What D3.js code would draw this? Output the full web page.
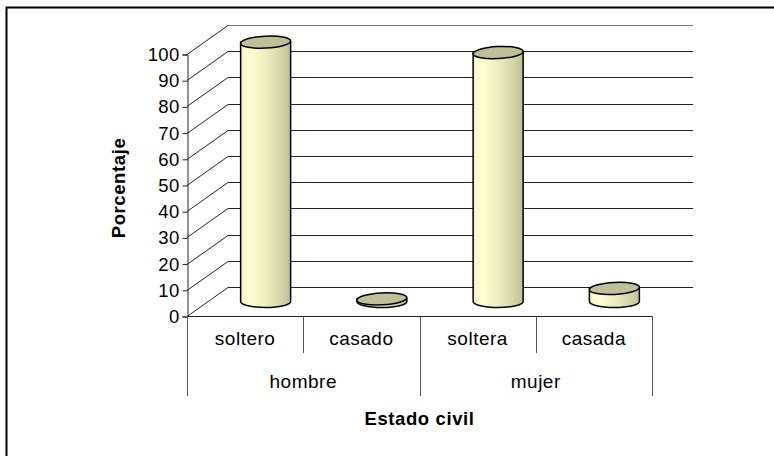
<!DOCTYPE html>
<html>
<head>
<meta charset="utf-8">
<script src="https://cdn.jsdelivr.net/npm/d3@7"></script>
<style>
  body { margin: 0; background: #fff; }
  text { font-family: "Liberation Sans", Arial, sans-serif; fill: #000; }
</style>
</head>
<body>
<svg width="774" height="456"></svg>
<script>
// Data
const groups = ["hombre", "mujer"];
const categories = ["soltero", "casado", "soltera", "casada"];
const categoryGroup = ["hombre", "hombre", "mujer", "mujer"];
const values = [99, 1, 95, 5];
const yTicks = [0, 10, 20, 30, 40, 50, 60, 70, 80, 90, 100];

// Set SVG dimensions
const width = 774;
const height = 456;
const left = 187, right = 652, floorY = 316, topY = 54;
const depth = { dx: 41, dy: -29 };

const svg = d3.select("svg");

// Outer frame (right and bottom edges fall outside the picture)
svg.append("rect")
    .attr("x", 6.5).attr("y", 7.5)
    .attr("width", 800).attr("height", 500)
    .attr("fill", "none")
    .attr("stroke", "#000")
    .attr("stroke-width", 2);

// Scales
const yScale = d3.scaleLinear().domain([0, 100]).range([floorY, topY]);
const xScale = d3.scaleBand().domain(categories).range([left, right]);
const groupScale = d3.scaleBand().domain(groups).range([left, right]);

// Back wall gridlines and side wall diagonals
const grid = svg.append("g").attr("stroke", "#222").attr("stroke-width", 1);
yTicks.forEach(function(t) {
    const y = Math.round(yScale(t)) + 0.5;
    grid.append("line")
        .attr("x1", left).attr("y1", y)
        .attr("x2", left + depth.dx).attr("y2", y + depth.dy);
    grid.append("line")
        .attr("x1", left + depth.dx).attr("y1", y + depth.dy)
        .attr("x2", right + depth.dx).attr("y2", y + depth.dy)
        .attr("stroke", t === 100 ? "#777" : "#222");
});

// Y axis
const yAxis = svg.append("g")
    .attr("transform", `translate(${left + 0.5}, 0.5)`)
    .call(d3.axisLeft(yScale).tickValues(yTicks).tickSize(5).tickPadding(3));
yAxis.select(".domain").attr("stroke", "#222");
yAxis.selectAll(".tick line").attr("stroke", "#222");
yAxis.selectAll("text")
    .style("font-size", "18.5px")
    .style("letter-spacing", "0.3px")
    .style("font-family", "Liberation Sans, Arial, sans-serif")
    .attr("fill", "#000");

// Category box under the floor
const box = svg.append("g").attr("stroke", "#555").attr("stroke-width", 1);
box.append("line")
    .attr("x1", left).attr("y1", floorY + 0.5)
    .attr("x2", right).attr("y2", floorY + 0.5)
    .attr("stroke", "#222");
categories.forEach(function(c, i) {
    const x = Math.round(xScale(c)) + 0.5;
    box.append("line")
        .attr("x1", x).attr("y1", floorY)
        .attr("x2", x).attr("y2", i % 2 === 0 ? 396 : 353);
});
box.append("line")
    .attr("x1", right + 0.5).attr("y1", floorY)
    .attr("x2", right + 0.5).attr("y2", 396);

// Category labels
svg.selectAll(".cat")
    .data(categories)
    .enter()
    .append("text")
    .attr("x", d => xScale(d) + xScale.bandwidth() / 2)
    .attr("y", 345)
    .attr("text-anchor", "middle")
    .style("font-size", "19px")
    .style("letter-spacing", "0.5px")
    .text(d => d);

// Group labels
svg.selectAll(".grp")
    .data(groups)
    .enter()
    .append("text")
    .attr("x", d => groupScale(d) + groupScale.bandwidth() / 2)
    .attr("y", 388)
    .attr("text-anchor", "middle")
    .style("font-size", "19px")
    .style("letter-spacing", "0.5px")
    .text(d => d);

// Gradients for cylinders
const defs = svg.append("defs");
const grad = defs.append("linearGradient").attr("id", "cyl");
grad.append("stop").attr("offset", "0%").attr("stop-color", "#F4F4C4");
grad.append("stop").attr("offset", "18%").attr("stop-color", "#FFFFD2");
grad.append("stop").attr("offset", "50%").attr("stop-color", "#EDEDC0");
grad.append("stop").attr("offset", "80%").attr("stop-color", "#D6D6AA");
grad.append("stop").attr("offset", "100%").attr("stop-color", "#BEBE98");

// Cylinders, placed at half depth
const barW = 50, ry = 6;
const bars = svg.append("g");
values.forEach(function(v, i) {
    const cx = xScale(categories[i]) + xScale.bandwidth() / 2 + depth.dx / 2;
    const yBot = yScale(0) + depth.dy / 2;
    const yTop = yScale(v) + depth.dy / 2;
    const x0 = cx - barW / 2, x1 = cx + barW / 2;
    bars.append("path")
        .attr("d", `M${x0},${yTop} L${x0},${yBot} A${barW / 2},${ry} 0 0 0 ${x1},${yBot} L${x1},${yTop} Z`)
        .attr("fill", "url(#cyl)")
        .attr("stroke", "#000")
        .attr("stroke-width", 1.5);
    bars.append("ellipse")
        .attr("cx", cx).attr("cy", yTop)
        .attr("rx", barW / 2).attr("ry", ry)
        .attr("transform", `rotate(-3, ${cx}, ${yTop})`)
        .attr("fill", "#BFBF98")
        .attr("stroke", "#000")
        .attr("stroke-width", 1.5);
});

// Y axis title
svg.append("text")
    .attr("transform", "translate(125, 188) rotate(-90)")
    .attr("text-anchor", "middle")
    .style("font-size", "18.5px")
    .style("font-weight", "bold")
    .style("letter-spacing", "0.6px")
    .text("Porcentaje");

// X axis title
svg.append("text")
    .attr("x", (left + right) / 2)
    .attr("y", 425)
    .attr("text-anchor", "middle")
    .style("font-size", "18.5px")
    .style("font-weight", "bold")
    .style("letter-spacing", "0.6px")
    .text("Estado civil");
</script>
</body>
</html>
